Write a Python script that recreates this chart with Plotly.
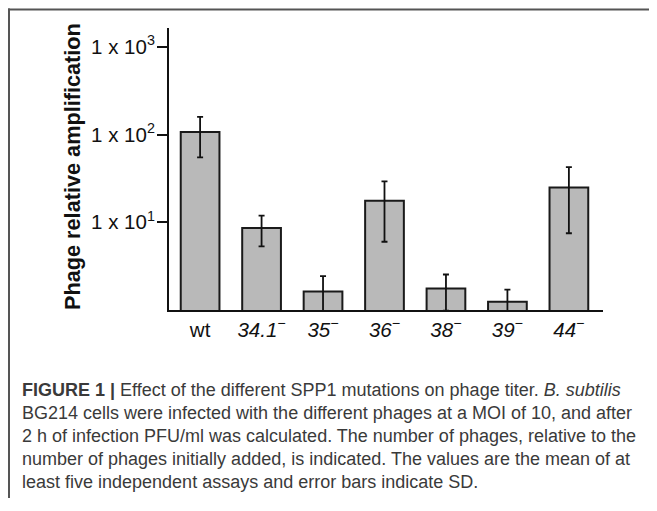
import plotly.graph_objects as go

# ---- data ----
categories = ["wt", "34.1", "35", "36", "38", "39", "44"]
values = [107, 8.6, 1.63, 17.6, 1.76, 1.24, 25.0]
sd = [52, 3.3, 0.8, 11.6, 0.78, 0.47, 17.5]
x_tick_text = ["wt", "<i>34.1<sup>−</sup></i>", "<i>35<sup>−</sup></i>", "<i>36<sup>−</sup></i>",
               "<i>38<sup>−</sup></i>", "<i>39<sup>−</sup></i>", "<i>44<sup>−</sup></i>"]
y_tick_vals = [10, 100, 1000]
y_tick_text = ["1 x 10<sup>1</sup>", "1 x 10<sup>2</sup>", "1 x 10<sup>3</sup>"]
y_title = "Phage relative amplification"
caption_lines = [
    "<b>FIGURE 1 |</b> Effect of the different SPP1 mutations on phage titer. <i>B. subtilis</i>",
    "BG214 cells were infected with the different phages at a MOI of 10, and after",
    "2 h of infection PFU/ml was calculated. The number of phages, relative to the",
    "number of phages initially added, is indicated. The values are the mean of at",
    "least five independent assays and error bars indicate SD.",
]

# ---- geometry (page offset of 8px from body margin; figure fits inside window) ----
OFF = 8
W, H = 657 - 2 * OFF, 490
L, T, PW, PH = 169 - OFF, 28 - OFF, 434, 282
R = W - L - PW
B = H - T - PH


def px(xp):
    """page x pixel -> paper fraction"""
    return (xp - OFF - L) / PW


def py(yp):
    """page y pixel -> paper fraction"""
    return (T + PH - (yp - OFF)) / PH


FONT = "Liberation Sans, Arial, sans-serif"

fig = go.Figure()
fig.add_trace(go.Bar(
    x=list(range(len(categories))),
    y=values,
    marker=dict(color="#b9b9b9", line=dict(color="#1a1a1a", width=2)),
    error_y=dict(type="data", array=sd, visible=True, color="#111111", thickness=1.8, width=3),
    width=0.63,
))

fig.update_layout(
    width=W, height=H,
    margin=dict(l=L, r=R, t=T, b=B, autoexpand=False),
    paper_bgcolor="white", plot_bgcolor="white",
    showlegend=False,
    font=dict(family=FONT, color="#111111"),
    xaxis=dict(
        range=[-0.506, 6.555], tickmode="array",
        tickvals=list(range(len(categories))), ticktext=x_tick_text,
        showline=True, linecolor="#111111", linewidth=2,
        ticks="", showgrid=False, zeroline=False,
        tickfont=dict(size=20.5, family=FONT, color="#111111"),
        fixedrange=True,
    ),
    yaxis=dict(
        type="log", range=[0, 3.215], tickmode="array",
        tickvals=y_tick_vals, ticktext=y_tick_text,
        showline=True, linecolor="#111111", linewidth=2,
        ticks="outside", ticklen=10, tickwidth=2, tickcolor="#111111",
        ticklabelstandoff=-2,
        showgrid=False, zeroline=False,
        tickfont=dict(size=20.5, family=FONT, color="#111111"),
        fixedrange=True,
    ),
)

annotations = [dict(
    text="<b>" + y_title + "</b>", xref="paper", yref="paper",
    x=px(72), y=py(167), textangle=-90, showarrow=False,
    font=dict(size=21.7, family=FONT, color="#111111"),
    xanchor="center", yanchor="middle",
)]
line_y = [390, 413, 436, 459, 482]
for txt, yy in zip(caption_lines, line_y):
    annotations.append(dict(
        text=txt, xref="paper", yref="paper", x=px(20), y=py(yy),
        xanchor="left", yanchor="middle", showarrow=False,
        font=dict(size=18, family=FONT, color="#3a3a3a"),
    ))
fig.update_layout(annotations=annotations)

# frame lines (top and left)
fig.add_shape(type="line", xref="paper", yref="paper", x0=px(8), x1=px(657), y0=py(9.5), y1=py(9.5),
              line=dict(color="#555555", width=2))
fig.add_shape(type="line", xref="paper", yref="paper", x0=px(9), x1=px(9), y0=py(8.5), y1=py(511),
              line=dict(color="#555555", width=2))

fig.write_html("out.html")
